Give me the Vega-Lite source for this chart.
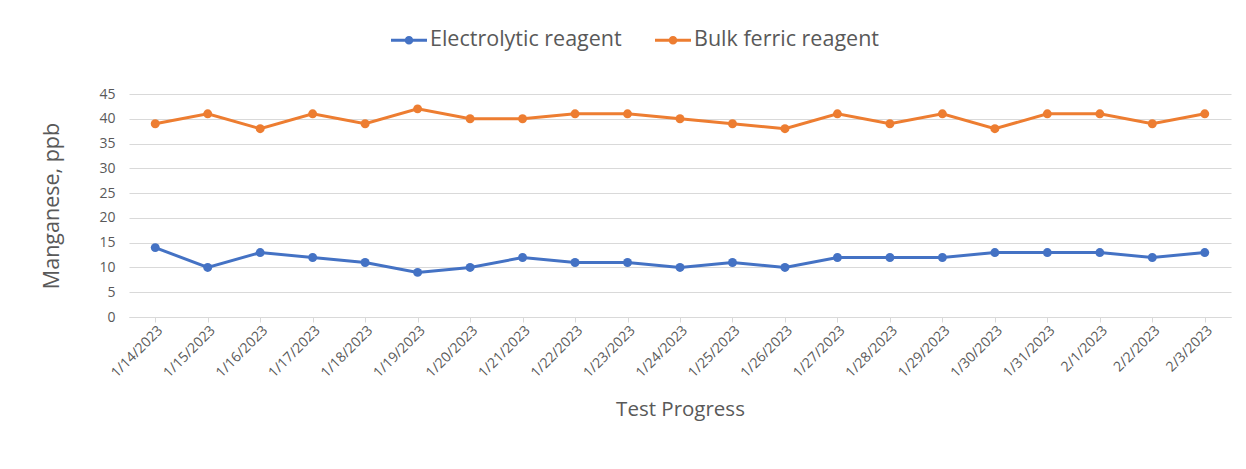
{
  "$schema": "https://vega.github.io/schema/vega-lite/v6.json",
  "width": 1102,
  "height": 223,
  "autosize": {"type": "none"},
  "padding": {"left": 129, "top": 94, "right": 15, "bottom": 152},
  "background": "white",
  "config": {
    "view": {"stroke": null},
    "font": "Open Sans",
    "axis": {"labelColor": "#595959", "titleColor": "#595959", "labelFont": "Open Sans", "titleFont": "Open Sans", "titleFontWeight": "normal"},
    "legend": {"labelFont": "Open Sans", "labelLimit": 0}
  },
  "data": {"values": [
    {"date": "1/14/2023", "series": "Electrolytic reagent", "value": 14},
    {"date": "1/15/2023", "series": "Electrolytic reagent", "value": 10},
    {"date": "1/16/2023", "series": "Electrolytic reagent", "value": 13},
    {"date": "1/17/2023", "series": "Electrolytic reagent", "value": 12},
    {"date": "1/18/2023", "series": "Electrolytic reagent", "value": 11},
    {"date": "1/19/2023", "series": "Electrolytic reagent", "value": 9},
    {"date": "1/20/2023", "series": "Electrolytic reagent", "value": 10},
    {"date": "1/21/2023", "series": "Electrolytic reagent", "value": 12},
    {"date": "1/22/2023", "series": "Electrolytic reagent", "value": 11},
    {"date": "1/23/2023", "series": "Electrolytic reagent", "value": 11},
    {"date": "1/24/2023", "series": "Electrolytic reagent", "value": 10},
    {"date": "1/25/2023", "series": "Electrolytic reagent", "value": 11},
    {"date": "1/26/2023", "series": "Electrolytic reagent", "value": 10},
    {"date": "1/27/2023", "series": "Electrolytic reagent", "value": 12},
    {"date": "1/28/2023", "series": "Electrolytic reagent", "value": 12},
    {"date": "1/29/2023", "series": "Electrolytic reagent", "value": 12},
    {"date": "1/30/2023", "series": "Electrolytic reagent", "value": 13},
    {"date": "1/31/2023", "series": "Electrolytic reagent", "value": 13},
    {"date": "2/1/2023", "series": "Electrolytic reagent", "value": 13},
    {"date": "2/2/2023", "series": "Electrolytic reagent", "value": 12},
    {"date": "2/3/2023", "series": "Electrolytic reagent", "value": 13},
    {"date": "1/14/2023", "series": "Bulk ferric reagent", "value": 39},
    {"date": "1/15/2023", "series": "Bulk ferric reagent", "value": 41},
    {"date": "1/16/2023", "series": "Bulk ferric reagent", "value": 38},
    {"date": "1/17/2023", "series": "Bulk ferric reagent", "value": 41},
    {"date": "1/18/2023", "series": "Bulk ferric reagent", "value": 39},
    {"date": "1/19/2023", "series": "Bulk ferric reagent", "value": 42},
    {"date": "1/20/2023", "series": "Bulk ferric reagent", "value": 40},
    {"date": "1/21/2023", "series": "Bulk ferric reagent", "value": 40},
    {"date": "1/22/2023", "series": "Bulk ferric reagent", "value": 41},
    {"date": "1/23/2023", "series": "Bulk ferric reagent", "value": 41},
    {"date": "1/24/2023", "series": "Bulk ferric reagent", "value": 40},
    {"date": "1/25/2023", "series": "Bulk ferric reagent", "value": 39},
    {"date": "1/26/2023", "series": "Bulk ferric reagent", "value": 38},
    {"date": "1/27/2023", "series": "Bulk ferric reagent", "value": 41},
    {"date": "1/28/2023", "series": "Bulk ferric reagent", "value": 39},
    {"date": "1/29/2023", "series": "Bulk ferric reagent", "value": 41},
    {"date": "1/30/2023", "series": "Bulk ferric reagent", "value": 38},
    {"date": "1/31/2023", "series": "Bulk ferric reagent", "value": 41},
    {"date": "2/1/2023", "series": "Bulk ferric reagent", "value": 41},
    {"date": "2/2/2023", "series": "Bulk ferric reagent", "value": 39},
    {"date": "2/3/2023", "series": "Bulk ferric reagent", "value": 41}
  ]},
  "resolve": {"axis": {"x": "independent"}},
  "layer": [
    {
      "mark": {"type": "line", "strokeWidth": 3},
      "encoding": {
        "x": {
          "field": "date", "type": "ordinal", "sort": null,
          "scale": {"paddingInner": 0, "paddingOuter": 0},
          "axis": {
            "orient": "bottom",
            "labelAngle": -45, "labelFontSize": 14, "labelPadding": 6,
            "ticks": false, "domain": true, "domainColor": "#d9d9d9", "domainWidth": 1,
            "grid": false,
            "title": "Test Progress", "titleFontSize": 20.5, "titlePadding": 20
          }
        },
        "y": {
          "field": "value", "type": "quantitative",
          "scale": {"domain": [0, 45]},
          "axis": {
            "values": [0, 5, 10, 15, 20, 25, 30, 35, 40, 45],
            "domain": false, "ticks": false, "grid": true, "gridColor": "#d9d9d9", "gridWidth": 1,
            "labelFontSize": 14, "labelPadding": 14,
            "title": "Manganese, ppb", "titleFontSize": 21.5, "titlePadding": 35
          }
        },
        "color": {
          "field": "series", "type": "nominal",
          "scale": {"domain": ["Electrolytic reagent", "Bulk ferric reagent"], "range": ["#4472C4", "#ED7D31"]},
          "legend": {
            "orient": "none", "legendX": 262, "legendY": -72, "direction": "horizontal",
            "title": null, "labelLimit": 0,
            "symbolType": "M-1,-0.085H1V0.085H-1Z M-0.24,0A0.24,0.24 0 1,1 0.24,0A0.24,0.24 0 1,1 -0.24,0Z",
            "symbolSize": 1296, "symbolStrokeWidth": 0, "symbolOpacity": 1,
            "labelFontSize": 21.5, "labelColor": "#595959", "labelOffset": 3,
            "columnPadding": 33,
            "encode": {"symbols": {"update": {"fill": {"scale": "color", "field": "value"}, "strokeWidth": {"value": 0}, "opacity": {"value": 1}}}}
          }
        }
      }
    },
    {
      "mark": {"type": "point", "filled": true, "opacity": 1, "size": 80},
      "encoding": {
        "x": {
          "field": "date", "type": "ordinal", "sort": null,
          "axis": {
            "orient": "bottom", "labels": false, "domain": false, "grid": false,
            "ticks": true, "tickColor": "#d9d9d9", "tickSize": 5, "tickWidth": 1, "bandPosition": 0,
            "title": null
          }
        },
        "y": {
          "field": "value", "type": "quantitative",
          "axis": {
            "values": [0, 5, 10, 15, 20, 25, 30, 35, 40, 45],
            "domain": false, "ticks": false, "grid": true, "gridColor": "#d9d9d9", "gridWidth": 1,
            "labelFontSize": 14, "labelPadding": 14,
            "title": "Manganese, ppb", "titleFontSize": 21.5, "titlePadding": 35
          }
        },
        "color": {
          "field": "series", "type": "nominal",
          "legend": {
            "orient": "none", "legendX": 262, "legendY": -72, "direction": "horizontal",
            "title": null, "labelLimit": 0,
            "symbolType": "M-1,-0.085H1V0.085H-1Z M-0.24,0A0.24,0.24 0 1,1 0.24,0A0.24,0.24 0 1,1 -0.24,0Z",
            "symbolSize": 1296, "symbolStrokeWidth": 0, "symbolOpacity": 1,
            "labelFontSize": 21.5, "labelColor": "#595959", "labelOffset": 3,
            "columnPadding": 33,
            "encode": {"symbols": {"update": {"fill": {"scale": "color", "field": "value"}, "strokeWidth": {"value": 0}, "opacity": {"value": 1}}}}
          }
        }
      }
    }
  ]
}
